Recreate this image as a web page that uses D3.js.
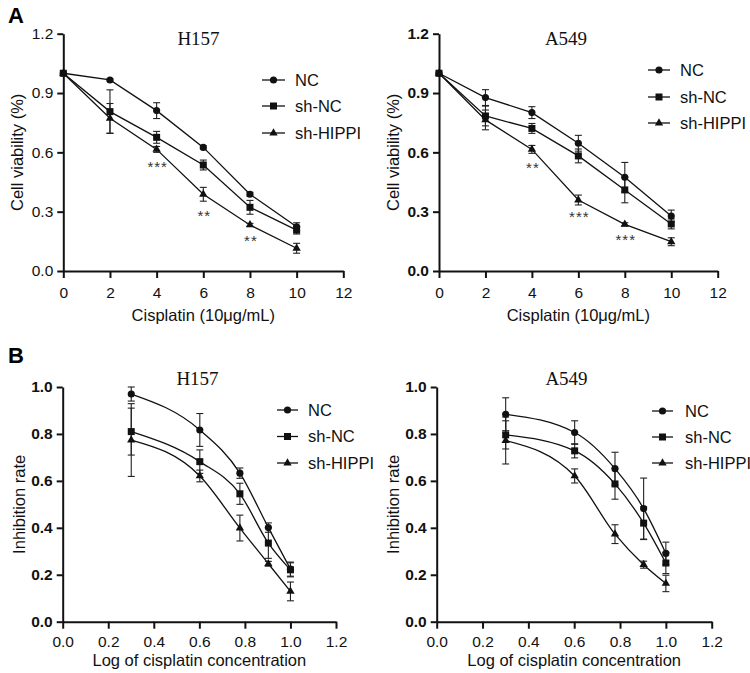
<!DOCTYPE html>
<html>
<head>
<meta charset="utf-8">
<script src="https://cdn.jsdelivr.net/npm/d3@7"></script>
<style>
  body { margin: 0; background: #fff; }
  svg { display: block; }
</style>
</head>
<body>
<script>
// ---- data ----
const groups = ["NC", "sh-NC", "sh-HIPPI"]

// panel A: cisplatin dose vs cell viability
const dose = [0, 2, 4, 6, 8, 10]
const doseTicks = [0, 2, 4, 6, 8, 10, 12]
const viabTicks = [0, 0.3, 0.6, 0.9, 1.2]

const h157ViabNC = [1.0, 0.966, 0.811, 0.625, 0.388, 0.224]
const h157ViabNCErr = [0, 0.005, 0.04, 0.008, 0.01, 0.02]
const h157ViabShNC = [1.0, 0.806, 0.676, 0.536, 0.322, 0.207]
const h157ViabShNCErr = [0, 0.11, 0.03, 0.025, 0.035, 0.02]
const h157ViabShHIPPI = [1.0, 0.772, 0.615, 0.388, 0.233, 0.115]
const h157ViabShHIPPIErr = [0, 0.075, 0.015, 0.035, 0.008, 0.025]

const a549ViabNC = [1.0, 0.877, 0.801, 0.646, 0.474, 0.278]
const a549ViabNCErr = [0, 0.04, 0.03, 0.04, 0.075, 0.03]
const a549ViabShNC = [1.0, 0.784, 0.721, 0.582, 0.41, 0.238]
const a549ViabShNCErr = [0, 0.05, 0.025, 0.035, 0.065, 0.025]
const a549ViabShHIPPI = [1.0, 0.764, 0.615, 0.359, 0.236, 0.148]
const a549ViabShHIPPIErr = [0, 0.05, 0.02, 0.025, 0.008, 0.02]

// significance marks (dose, level, label)
const h157StarDose = [4, 6, 8]
const h157StarLevel = [0.543, 0.294, 0.168]
const h157StarText = ["***", "**", "**"]
const a549StarDose = [4, 6, 8]
const a549StarLevel = [0.541, 0.29, 0.175]
const a549StarText = ["**", "***", "***"]

// panel B: log dose vs inhibition rate
const logDose = [0.301, 0.602, 0.778, 0.903, 1.0]
const logTicks = [0, 0.2, 0.4, 0.6, 0.8, 1.0, 1.2]
const inhTicks = [0, 0.2, 0.4, 0.6, 0.8, 1.0]

const h157InhNC = [0.97, 0.817, 0.633, 0.401, 0.224]
const h157InhNCErr = [0.03, 0.07, 0.022, 0.02, 0.03]
const h157InhShNC = [0.81, 0.682, 0.545, 0.335, 0.221]
const h157InhShNCErr = [0.1, 0.05, 0.045, 0.065, 0.03]
const h157InhShHIPPI = [0.774, 0.621, 0.399, 0.247, 0.129]
const h157InhShHIPPIErr = [0.155, 0.025, 0.055, 0.01, 0.04]

const a549InhNC = [0.884, 0.806, 0.652, 0.482, 0.291]
const a549InhNCErr = [0.07, 0.05, 0.07, 0.13, 0.048]
const a549InhShNC = [0.796, 0.728, 0.587, 0.42, 0.25]
const a549InhShNCErr = [0.06, 0.03, 0.065, 0.07, 0.045]
const a549InhShHIPPI = [0.772, 0.621, 0.373, 0.243, 0.163]
const a549InhShHIPPIErr = [0.1, 0.03, 0.04, 0.015, 0.035]

// ---- drawing ----
const sans = "'Liberation Sans', Arial, sans-serif"
const serif = "'Liberation Serif', 'Times New Roman', serif"
const symbols = [d3.symbolCircle, d3.symbolSquare, d3.symbolTriangle]
const symbolSize = [40, 49, 30]

const svg = d3.select("body").append("svg")
    .attr("width", 750)
    .attr("height", 673)
    .attr("xmlns", "http://www.w3.org/2000/svg")

const mkSeries = (xs, lists) => lists.map(([v, e], i) => ({
    name: groups[i],
    pts: xs.map((x, j) => ({ x: x, v: v[j], e: e[j] }))
}))

const panels = [
    {
        title: "H157", titleX: 198.5, titleY: 45,
        x0: 63.3, x1: 343.3, yt: 33.7, yb: 271,
        xDomain: [0, 12], yDomain: [0, 1.2], xTicks: doseTicks, yTicks: viabTicks,
        xFmt: d3.format("d"), yFmt: d3.format(".1f"), yBold: false, xPad: 9,
        xLabel: "Cisplatin (10μg/mL)", xLabelY: 321,
        yLabel: "Cell viability (%)", yLabelX: 22.5,
        curve: d3.curveLinear,
        series: mkSeries(dose, [[h157ViabNC, h157ViabNCErr], [h157ViabShNC, h157ViabShNCErr], [h157ViabShHIPPI, h157ViabShHIPPIErr]]),
        stars: h157StarDose.map((d, i) => ({ x: d, v: h157StarLevel[i], t: h157StarText[i] })),
        leg: { lx0: 262, lx1: 285, tx: 295, rows: [80, 106, 133] }
    },
    {
        title: "A549", titleX: 566, titleY: 45,
        x0: 439, x1: 717.7, yt: 33.7, yb: 271,
        xDomain: [0, 12], yDomain: [0, 1.2], xTicks: doseTicks, yTicks: viabTicks,
        xFmt: d3.format("d"), yFmt: d3.format(".1f"), yBold: true, xPad: 9,
        xLabel: "Cisplatin (10μg/mL)", xLabelY: 321,
        yLabel: "Cell viability (%)", yLabelX: 398.5,
        curve: d3.curveLinear,
        series: mkSeries(dose, [[a549ViabNC, a549ViabNCErr], [a549ViabShNC, a549ViabShNCErr], [a549ViabShHIPPI, a549ViabShHIPPIErr]]),
        stars: a549StarDose.map((d, i) => ({ x: d, v: a549StarLevel[i], t: a549StarText[i] })),
        leg: { lx0: 648, lx1: 670, tx: 680, rows: [70, 97, 123] }
    },
    {
        title: "H157", titleX: 197.5, titleY: 385,
        x0: 62.7, x1: 336, yt: 387, yb: 621.7,
        xDomain: [0, 1.2], yDomain: [0, 1.0], xTicks: logTicks, yTicks: inhTicks,
        xFmt: d3.format(".1f"), yFmt: d3.format(".1f"), yBold: true, xPad: 7,
        xLabel: "Log of cisplatin concentration", xLabelY: 666,
        yLabel: "Inhibition rate", yLabelX: 25,
        curve: d3.curveMonotoneX,
        series: mkSeries(logDose, [[h157InhNC, h157InhNCErr], [h157InhShNC, h157InhShNCErr], [h157InhShHIPPI, h157InhShHIPPIErr]]),
        stars: [],
        leg: { lx0: 277, lx1: 298, tx: 308, rows: [410, 436.5, 463] }
    },
    {
        title: "A549", titleX: 566.5, titleY: 385,
        x0: 436.7, x1: 711.7, yt: 387, yb: 621.7,
        xDomain: [0, 1.2], yDomain: [0, 1.0], xTicks: logTicks, yTicks: inhTicks,
        xFmt: d3.format(".1f"), yFmt: d3.format(".1f"), yBold: true, xPad: 7,
        xLabel: "Log of cisplatin concentration", xLabelY: 666,
        yLabel: "Inhibition rate", yLabelX: 399,
        curve: d3.curveMonotoneX,
        series: mkSeries(logDose, [[a549InhNC, a549InhNCErr], [a549InhShNC, a549InhShNCErr], [a549InhShHIPPI, a549InhShHIPPIErr]]),
        stars: [],
        leg: { lx0: 652, lx1: 673, tx: 685, rows: [411, 437, 463] }
    }
]

function drawPanel(p) {
    const g = svg.append("g")
    const x = d3.scaleLinear().domain(p.xDomain).range([p.x0, p.x1])
    const y = d3.scaleLinear().domain(p.yDomain).range([p.yb, p.yt])

    // axes
    const xa = g.append("g")
        .attr("transform", `translate(0,${p.yb})`)
        .call(d3.axisBottom(x).tickValues(p.xTicks).tickFormat(p.xFmt).tickSize(7).tickSizeOuter(0).tickPadding(p.xPad))
    const ya = g.append("g")
        .attr("transform", `translate(${p.x0},0)`)
        .call(d3.axisLeft(y).tickValues(p.yTicks).tickFormat(p.yFmt).tickSize(6).tickSizeOuter(0).tickPadding(4))

    ;[xa, ya].forEach(a => {
        a.attr("font-family", sans).attr("font-size", 15.5)
        a.select(".domain").attr("stroke", "#111").attr("stroke-width", 2)
        a.selectAll(".tick line").attr("stroke", "#111").attr("stroke-width", 2)
        a.selectAll(".tick text").attr("fill", "#111")
    })
    ya.selectAll(".tick text").attr("font-weight", p.yBold ? "bold" : "normal")
    xa.selectAll(".tick text").attr("font-weight", "normal")

    // axis titles
    g.append("text")
        .attr("x", (p.x0 + p.x1) / 2)
        .attr("y", p.xLabelY)
        .attr("text-anchor", "middle")
        .attr("font-family", sans).attr("font-size", 16.5)
        .attr("fill", "#111")
        .text(p.xLabel)
    g.append("text")
        .attr("transform", `translate(${p.yLabelX},${(p.yt + p.yb) / 2}) rotate(-90)`)
        .attr("text-anchor", "middle")
        .attr("font-family", sans).attr("font-size", 16.5)
        .attr("fill", "#111")
        .text(p.yLabel)

    // cell line title
    g.append("text")
        .attr("x", p.titleX).attr("y", p.titleY)
        .attr("text-anchor", "middle")
        .attr("font-family", serif).attr("font-size", 19)
        .attr("fill", "#111")
        .text(p.title)

    const line = d3.line().x(d => x(d.x)).y(d => y(d.v)).curve(p.curve)

    p.series.forEach((s, i) => {
        g.append("path")
            .attr("d", line(s.pts))
            .attr("fill", "none")
            .attr("stroke", "#111")
            .attr("stroke-width", 1.3)

        const eb = g.append("g").attr("stroke", "#222").attr("stroke-width", 1.1)
        s.pts.filter(d => d.e > 0).forEach(d => {
            const cx = x(d.x), top = y(d.v + d.e), bot = y(d.v - d.e)
            eb.append("line").attr("x1", cx).attr("x2", cx).attr("y1", top).attr("y2", bot)
            eb.append("line").attr("x1", cx - 3.5).attr("x2", cx + 3.5).attr("y1", top).attr("y2", top)
            eb.append("line").attr("x1", cx - 3.5).attr("x2", cx + 3.5).attr("y1", bot).attr("y2", bot)
        })
    })

    p.series.forEach((s, i) => {
        g.append("g").selectAll("path")
            .data(s.pts)
            .join("path")
            .attr("transform", d => `translate(${x(d.x)},${y(d.v)})`)
            .attr("d", d3.symbol(symbols[i], symbolSize[i]))
            .attr("fill", "#111")
    })

    // significance marks
    g.append("g")
        .selectAll("text")
        .data(p.stars)
        .join("text")
        .attr("x", d => x(d.x) + 1)
        .attr("y", d => y(d.v) + 8.5)
        .attr("text-anchor", "middle")
        .attr("font-family", sans).attr("font-size", 15)
        .attr("letter-spacing", 1)
        .attr("fill", "#333")
        .text(d => d.t)

    // legend
    const lg = g.append("g")
    groups.forEach((name, i) => {
        const ry = p.leg.rows[i]
        lg.append("line")
            .attr("x1", p.leg.lx0).attr("x2", p.leg.lx1)
            .attr("y1", ry).attr("y2", ry)
            .attr("stroke", "#111").attr("stroke-width", 1.3)
        lg.append("path")
            .attr("transform", `translate(${(p.leg.lx0 + p.leg.lx1) / 2},${ry})`)
            .attr("d", d3.symbol(symbols[i], symbolSize[i]))
            .attr("fill", "#111")
        lg.append("text")
            .attr("x", p.leg.tx).attr("y", ry + 5.8)
            .attr("font-family", sans).attr("font-size", 16.5)
            .attr("fill", "#111")
            .text(name)
    })
}

panels.forEach(drawPanel)

// panel letters
svg.append("text").attr("x", 8).attr("y", 23)
    .attr("font-family", sans).attr("font-size", 22).attr("font-weight", "bold")
    .text("A")
svg.append("text").attr("x", 8).attr("y", 363)
    .attr("font-family", sans).attr("font-size", 22).attr("font-weight", "bold")
    .text("B")
</script>
</body>
</html>
